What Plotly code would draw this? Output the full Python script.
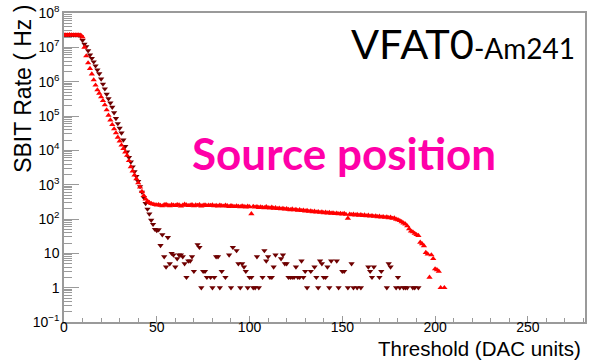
import plotly.graph_objects as go

# Threshold (DAC units) for the source-position scan (red, up-triangles)
red_x = list(range(0, 206))
red_y = [
    2.30e7, 2.28e7, 2.30e7, 2.31e7, 2.29e7, 2.30e7, 2.30e7, 2.28e7, 2.27e7, 2.25e7,
    2.0e7, 1.0e7, 5.6e6, 3.5e6, 2.4e6, 1.66e6, 1.12e6, 7.9e5, 5.75e5, 4.6e5,
    3.6e5, 2.8e5, 2.1e5, 1.5e5, 1.05e5, 7.6e4, 5.6e4, 4.2e4, 3.2e4, 2.4e4,
    1.86e4, 1.41e4, 1.12e4, 8.9e3, 7.1e3, 5.0e3, 3.3e3, 2.5e3, 1.9e3, 1.48e3,
    1.12e3, 850, 630, 480, 380, 330, 300, 282, 270, 262,
    255, 262, 248, 240, 258, 265, 250, 243, 260, 252,
    247, 262, 255, 238, 250, 268, 256, 245, 252, 260,
    243, 255, 249, 262, 238, 251, 257, 244, 250, 246,
    256, 240, 249, 238, 253, 245, 236, 250, 242, 231,
    244, 236, 228, 241, 233, 226, 238, 230, 222, 235,
    227, 142, 232, 220, 229, 216, 224, 218, 212, 226,
    214, 208, 219, 205, 212, 200, 207, 196, 203, 193,
    198, 190, 186, 194, 183, 188, 178, 185, 174, 180,
    171, 176, 166, 172, 162, 168, 158, 163, 155, 160,
    152, 157, 149, 154, 146, 150, 143, 148, 141, 145,
    139, 144, 136, 105, 138, 133, 137, 130, 135, 128,
    132, 126, 130, 123, 128, 121, 125, 119, 123, 116,
    120, 113, 117, 111, 115, 108, 112, 104, 107, 98,
    95, 89, 83, 76, 71, 63, 52, 44, 42, 38,
    35, 33, 21, 19, 16.6, 10.5, 9.5, 2, 9, 7,
    3.5, 3.3, 3, 1, None, 1,
]

# Scan without the source (dark red, down-triangles); zero-count bins are absent
dark_x = [
    0, 1, 2, 3, 4, 5, 6, 7, 8, 9, 10, 11, 12, 13, 14, 15, 16, 17, 18, 19,
    20, 21, 22, 23, 24, 25, 26, 27, 28, 29, 30, 31, 32, 33, 34, 35, 36, 37, 38, 39,
    40, 41, 42, 43, 44, 45, 46, 47, 48, 49,
    50, 51, 52, 53, 54, 55, 56, 57, 58, 59, 60, 61, 62, 63, 64, 65, 66, 67, 68, 69,
    70, 72, 73, 74, 75, 76, 77, 79, 80, 81, 82, 83, 84, 85, 87, 89, 90, 91, 93, 94,
    95, 96, 97, 98, 99, 100, 101, 102, 103, 104, 105, 107, 108, 109, 110, 111, 112, 113, 114, 117,
    118, 119, 120, 121, 122, 123, 124, 125, 126, 127, 128, 129, 130, 131, 133, 135, 136, 137, 138, 139,
    140, 141, 142, 143, 144, 147, 148, 150, 151, 153, 155, 156, 158, 160, 164, 165, 166, 167, 170, 171,
    174, 175, 176, 179, 180, 181, 183, 184, 185, 188, 189, 191,
]
dark_y = [
    2.3e7, 2.3e7, 2.3e7, 2.3e7, 2.3e7, 2.3e7, 2.3e7, 2.3e7, 2.25e7, 2.1e7,
    1.6e7, 1.25e7, 1.05e7, 8.0e6, 6.0e6, 4.8e6, 3.8e6, 2.9e6, 2.2e6, 1.7e6,
    1.2e6, 8.5e5, 6.2e5, 4.3e5, 3.2e5, 2.4e5, 1.8e5, 1.25e5, 8.5e4, 6.0e4,
    4.4e4, 3.2e4, 2.0e4, 1.3e4, 9.0e3, 6.2e3, 4.6e3, 3.3e3, 2.4e3, 1.75e3,
    1.25e3, 880, 610, 420, 285, 195, 140, 92, 70, 50,
    46, 49, 17, 35, 8, 4, 29, 5, 10, 9, 4, 7, 9, 9, 8, 5, 2, 6, 6, 8,
    3, 18, 15, 1, 3, 3, 2, 2, 1, 2, 8, 8, 1, 3, 2, 9, 1, 15, 12, 5,
    1, 5, 4, 3, 1, 2, 2, 1, 1, 8, 1, 2, 12, 6, 8, 2, 2, 4, 9, 7,
    9, 5, 5, 2, 2, 2, 2, 4, 2, 2, 6, 2, 3, 1, 3, 4, 2, 1, 6, 5,
    2, 2, 4, 1, 6, 6, 1, 3, 3, 1, 5, 1, 1, 1, 4, 3, 2, 4, 2, 3,
    1, 5, 4, 1, 2, 1, 1, 1, 1, 1, 1, 1,
]

y_tickvals = [1e-1, 1, 10, 1e2, 1e3, 1e4, 1e5, 1e6, 1e7, 1e8]
y_ticktext = ["10<sup>\u22121</sup>", "1", "10", "10<sup>2</sup>", "10<sup>3</sup>",
              "10<sup>4</sup>", "10<sup>5</sup>", "10<sup>6</sup>", "10<sup>7</sup>",
              "10<sup>8</sup>"]
x_tickvals = [0, 50, 100, 150, 200, 250]

fig = go.Figure()
fig.add_trace(go.Scatter(
    x=dark_x, y=dark_y, mode="markers",
    marker=dict(symbol="triangle-down", size=5.5, color="#6e0000"),
    showlegend=False,
))
fig.add_trace(go.Scatter(
    x=red_x, y=red_y, mode="markers",
    marker=dict(symbol="triangle-up", size=5.5, color="#ff0000"),
    showlegend=False,
))

axcol = "#9a9a9a"
fig.update_layout(
    width=590, height=363,
    margin=dict(l=64, r=3, t=8, b=41),
    paper_bgcolor="white", plot_bgcolor="white",
    font=dict(family="Liberation Sans, Arial, sans-serif", color="black"),
    xaxis=dict(
        range=[0, 280.8], showgrid=False, zeroline=False,
        showline=True, linecolor=axcol, linewidth=1.5, mirror=True,
        tickvals=x_tickvals, ticks="inside", ticklen=6, tickcolor=axcol, tickwidth=1,
        minor=dict(dtick=10, ticks="inside", ticklen=4, tickcolor=axcol, tickwidth=1),
        tickfont=dict(size=14), ticklabelstandoff=-9,
    ),
    yaxis=dict(
        type="log", range=[-1, 8], showgrid=False, zeroline=False,
        showline=True, linecolor=axcol, linewidth=1.5, mirror=True,
        tickvals=y_tickvals, ticktext=y_ticktext, ticklabeloverflow="allow",
        ticks="inside", ticklen=15, tickcolor=axcol, tickwidth=1,
        minor=dict(dtick="D1", ticks="inside", ticklen=8, tickcolor=axcol, tickwidth=1),
        tickfont=dict(size=14),
    ),
    annotations=[
        dict(text="SBIT Rate ( Hz )", xref="paper", yref="paper",
             x=-0.0784, y=0.755, textangle=-90, showarrow=False,
             xanchor="center", yanchor="middle", font=dict(size=23)),
        dict(text="Threshold (DAC units)", xref="paper", yref="paper",
             x=0.996, y=-0.086, showarrow=False,
             xanchor="right", yanchor="middle", font=dict(size=20.5)),
        dict(text="VFAT0<span style='font-size:28px'>-Am241</span>",
             xref="paper", yref="paper", x=0.985, y=0.903, showarrow=False,
             xanchor="right", yanchor="middle",
             font=dict(family="Lato, Noto Sans, sans-serif", size=41.5, color="black")),
        dict(text="<b>Source position</b>", xref="paper", yref="paper",
             x=0.537, y=0.548, showarrow=False, xanchor="center", yanchor="middle",
             font=dict(family="Lato, Noto Sans, sans-serif", size=44, color="#ff00a8")),
    ],
)

fig.write_html("out.html")
